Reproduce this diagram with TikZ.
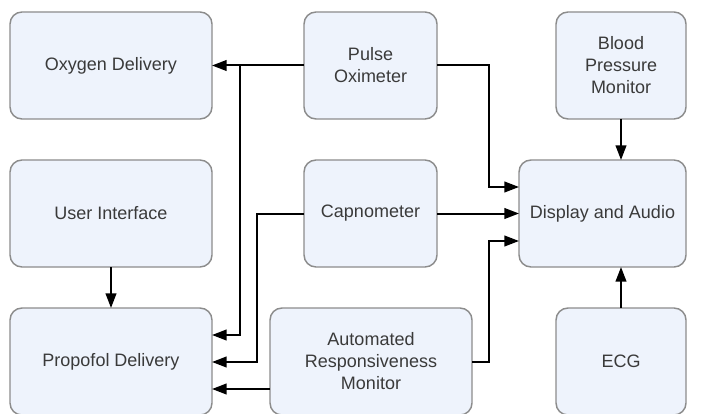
\documentclass[tikz,border=0pt]{standalone}
\usepackage{fontspec}
\setmainfont{Liberation Sans}
\usetikzlibrary{arrows.meta}
\definecolor{boxfill}{HTML}{EEF3FC}
\definecolor{boxline}{HTML}{8C8C8C}
\definecolor{boxtext}{HTML}{3A3A3A}
\def\u{0.75pt}
\tikzset{
  unit/.style={draw=boxline, line width=1.1pt, fill=boxfill, rounded corners=9pt,
    text=boxtext, align=center, inner sep=2pt, outer sep=0pt,
    font=\fontsize{13.5}{16.5}\selectfont},
  wire/.style={line width=1.5pt, black},
  arr/.style={wire, -{Triangle[length=11pt,width=8pt]}}
}
\begin{document}
\begin{tikzpicture}[x=\u, y=-\u]
\useasboundingbox (0,0) rectangle (712,413);
% top row
\node[unit, minimum width=202*\u, minimum height=107*\u] (ox)   at (111,65.5)   {Oxygen Delivery};
\node[unit, minimum width=133*\u, minimum height=107*\u] (po)   at (370.5,65.5) {Pulse\\Oximeter};
\node[unit, minimum width=130*\u, minimum height=107*\u] (bp)   at (621,65.5)   {Blood\\Pressure\\Monitor};
% middle row
\node[unit, minimum width=202*\u, minimum height=107*\u] (ui)   at (111,213.5)  {User Interface};
\node[unit, minimum width=133*\u, minimum height=107*\u] (cap)  at (370.5,213.5){Capnometer};
\node[unit, minimum width=167*\u, minimum height=107*\u] (disp) at (602.5,213.5){Display and Audio};
% bottom row
\node[unit, minimum width=202*\u, minimum height=107*\u] (prop) at (111,361.5)  {Propofol Delivery};
\node[unit, minimum width=202*\u, minimum height=107*\u] (arm)  at (371,361.5)  {Automated\\Responsiveness\\Monitor};
\node[unit, minimum width=130*\u, minimum height=107*\u] (ecg)  at (621,361.5)  {ECG};

% sensor feeds to the delivery units
\draw[arr] (po.west) -- (ox.east);
\draw[arr] (po.west -| 240,0) |- (prop.east |- 0,335);
\draw[arr] (cap.west) -- ++(-47,0) |- (prop.east |- 0,362);
\draw[arr] (arm.west |- 0,389) -- (prop.east |- 0,389);
\draw[arr] (ui.south) -- (prop.north);

% sensor feeds to the display
\draw[arr] (po.east) -- ++(52,0) |- (disp.west |- 0,187);
\draw[arr] (cap.east) -- (disp.west);
\draw[arr] (arm.east |- 0,362) -- ++(17,0) |- (disp.west |- 0,241);
\draw[arr] (bp.south) -- (disp.north -| bp.south);
\draw[arr] (ecg.north) -- (disp.south -| ecg.north);
\end{tikzpicture}
\end{document}
